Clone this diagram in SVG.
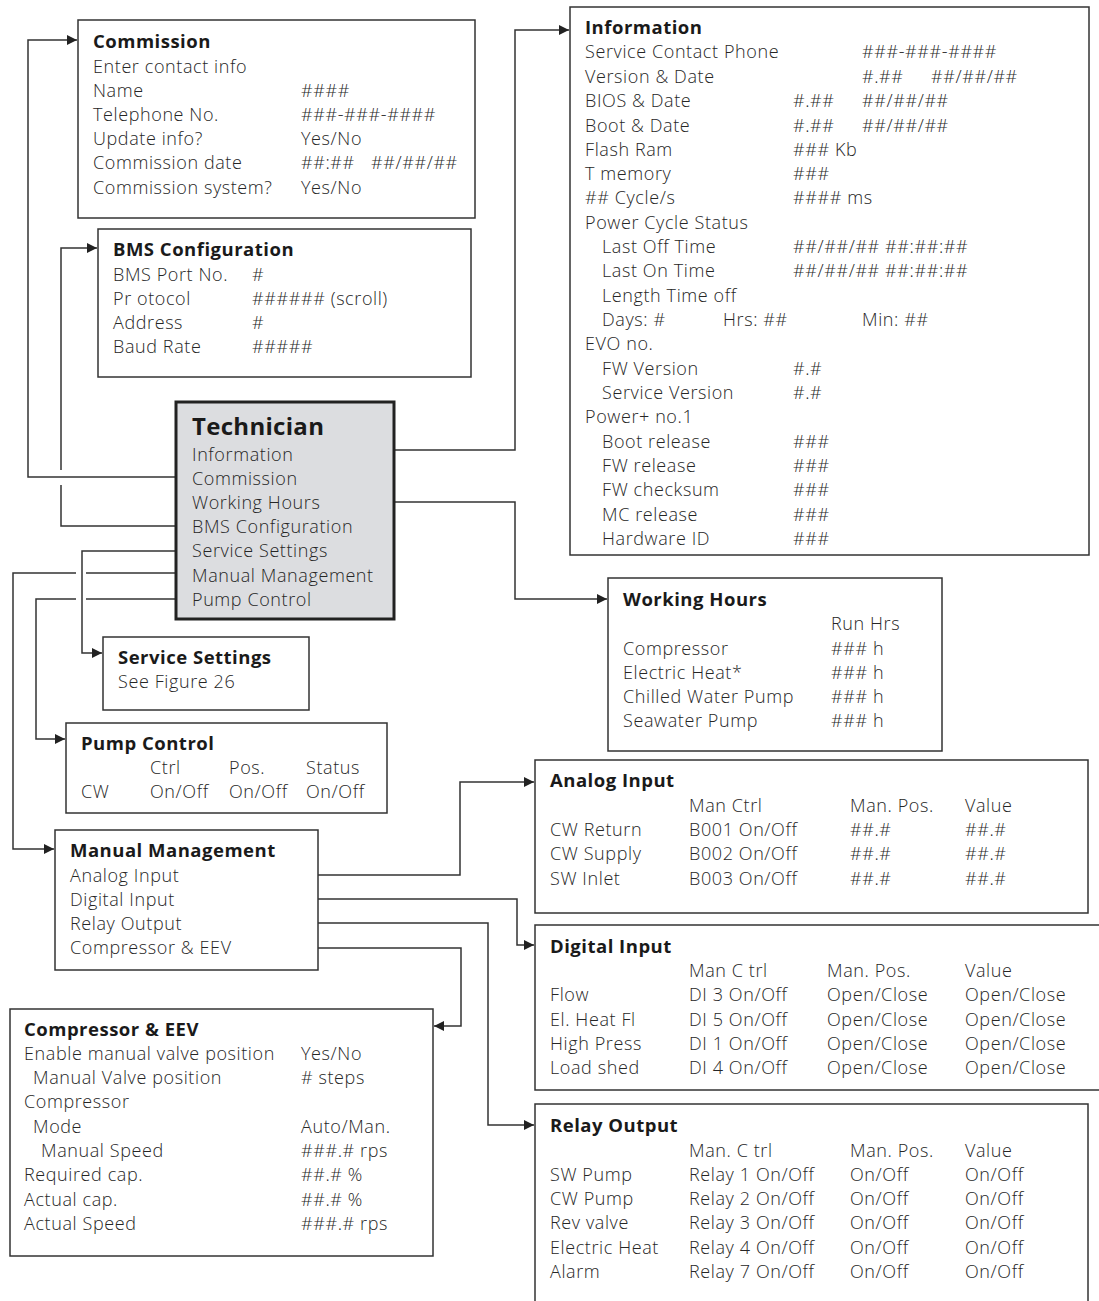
<svg xmlns="http://www.w3.org/2000/svg" width="1099" height="1301" viewBox="0 0 1099 1301">
<style>
text{font-family:"Open Sans","Liberation Sans",sans-serif;font-size:18px;font-weight:300;fill:#262626;letter-spacing:0.6px}
.t{font-weight:700;fill:#1a1a1a;font-size:18.5px;letter-spacing:0.5px}
.box{fill:#fff;stroke:#333;stroke-width:1.5}
.tech{fill:#dcdde0;stroke:#222;stroke-width:3}
.c{fill:none;stroke:#333;stroke-width:1.5}
.a{marker-end:url(#ah)}
</style>
<defs>
<marker id="ah" markerUnits="userSpaceOnUse" markerWidth="11" markerHeight="10" refX="10" refY="5" orient="auto">
<path d="M0,0 L10,5 L0,10 z" fill="#222"/>
</marker>
</defs>
<rect width="1099" height="1301" fill="#fff"/>

<g id="connectors">
<path class="c a" d="M394,450 H515 V30 H569"/>
<path class="c a" d="M176,477 H28 V40 H77"/>
<path class="c a" d="M394,502 H515 V599 H607"/>
<path class="c a" d="M61,470 V248 H97"/>
<path class="c" d="M176,526 H61 V485"/>
<path class="c a" d="M176,551 H82 V653 H102"/>
<path class="c" d="M176,573 H86"/>
<path class="c a" d="M76,573 H13 V849 H54"/>
<path class="c" d="M176,599 H86"/>
<path class="c a" d="M76,599 H36 V739 H65"/>
<path class="c a" d="M318,875 H460 V782 H534"/>
<path class="c a" d="M318,899 H517 V945 H534"/>
<path class="c a" d="M318,923 H488 V1125 H534"/>
<path class="c a" d="M318,948 H461 V1026 H434"/>
</g>

<g id="commission">
<rect class="box" x="78" y="20" width="397" height="198"/>
<text class="t" x="93" y="48">Commission</text>
<text x="93" y="73">Enter contact info</text>
<text x="93" y="97">Name</text><text x="301" y="97">####</text>
<text x="93" y="121">Telephone No.</text><text x="301" y="121">###-###-####</text>
<text x="93" y="145">Update info?</text><text x="301" y="145">Yes/No</text>
<text x="93" y="169">Commission date</text><text x="301" y="169">##:##</text><text x="371" y="169">##/##/##</text>
<text x="93" y="194">Commission system?</text><text x="301" y="194">Yes/No</text>
</g>

<g id="bms">
<rect class="box" x="98" y="229" width="373" height="148"/>
<text class="t" x="113" y="256">BMS Configuration</text>
<text x="113" y="281">BMS Port No.</text><text x="252" y="281">#</text>
<text x="113" y="305">Pr otocol</text><text x="252" y="305">###### (scroll)</text>
<text x="113" y="329">Address</text><text x="252" y="329">#</text>
<text x="113" y="353">Baud Rate</text><text x="252" y="353">#####</text>
</g>

<g id="technician">
<rect class="tech" x="176" y="402" width="218" height="217"/>
<text class="t" x="192" y="435" style="font-size:24px;letter-spacing:0.3px">Technician</text>
<text x="192" y="461">Information</text>
<text x="192" y="485">Commission</text>
<text x="192" y="509">Working Hours</text>
<text x="192" y="533">BMS Configuration</text>
<text x="192" y="557">Service Settings</text>
<text x="192" y="582">Manual Management</text>
<text x="192" y="606">Pump Control</text>
</g>

<g id="information">
<rect class="box" x="570" y="7" width="519" height="548"/>
<text class="t" x="585" y="34">Information</text>
<text x="585" y="58">Service Contact Phone</text><text x="862" y="58">###-###-####</text>
<text x="585" y="83">Version   &amp; Date</text><text x="862" y="83">#.##</text><text x="931" y="83">##/##/##</text>
<text x="585" y="107">BIOS &amp; Date</text><text x="793" y="107">#.##</text><text x="862" y="107">##/##/##</text>
<text x="585" y="132">Boot &amp; Date</text><text x="793" y="132">#.##</text><text x="862" y="132">##/##/##</text>
<text x="585" y="156">Flash Ram</text><text x="793" y="156">### Kb</text>
<text x="585" y="180">T memory</text><text x="793" y="180">###</text>
<text x="585" y="204">## Cycle/s</text><text x="793" y="204">#### ms</text>
<text x="585" y="229">Power Cycle Status</text>
<text x="602" y="253">Last Off Time</text><text x="793" y="253">##/##/## ##:##:##</text>
<text x="602" y="277">Last On Time</text><text x="793" y="277">##/##/## ##:##:##</text>
<text x="602" y="302">Length Time off</text>
<text x="602" y="326">Days: #</text><text x="723" y="326">Hrs: ##</text><text x="862" y="326">Min: ##</text>
<text x="585" y="350">EVO no.</text>
<text x="602" y="375">FW Version</text><text x="793" y="375">#.#</text>
<text x="602" y="399">Service Version</text><text x="793" y="399">#.#</text>
<text x="585" y="423">Power+  no.1</text>
<text x="602" y="448">Boot release</text><text x="793" y="448">###</text>
<text x="602" y="472">FW release</text><text x="793" y="472">###</text>
<text x="602" y="496">FW checksum</text><text x="793" y="496">###</text>
<text x="602" y="521">MC release</text><text x="793" y="521">###</text>
<text x="602" y="545">Hardware ID</text><text x="793" y="545">###</text>
</g>

<g id="working-hours">
<rect class="box" x="608" y="578" width="334" height="173"/>
<text class="t" x="623" y="606">Working Hours</text>
<text x="831" y="630">Run Hrs</text>
<text x="623" y="655">Compressor</text><text x="831" y="655">### h</text>
<text x="623" y="679">Electric Heat*</text><text x="831" y="679">### h</text>
<text x="623" y="703">Chilled Water Pump</text><text x="831" y="703">### h</text>
<text x="623" y="727">Seawater Pump</text><text x="831" y="727">### h</text>
</g>

<g id="service-settings">
<rect class="box" x="103" y="637" width="206" height="73"/>
<text class="t" x="118" y="664">Service Settings</text>
<text x="118" y="688">See Figure 26</text>
</g>

<g id="pump-control">
<rect class="box" x="66" y="723" width="321" height="90"/>
<text class="t" x="81" y="750">Pump Control</text>
<text x="150" y="774">Ctrl</text><text x="229" y="774">Pos.</text><text x="306" y="774">Status</text>
<text x="81" y="798">CW</text><text x="150" y="798">On/Off</text><text x="229" y="798">On/Off</text><text x="306" y="798">On/Off</text>
</g>

<g id="analog-input">
<rect class="box" x="535" y="760" width="553" height="153"/>
<text class="t" x="550" y="787">Analog Input</text>
<text x="689" y="812">Man Ctrl</text><text x="850" y="812">Man. Pos.</text><text x="965" y="812">Value</text>
<text x="550" y="836">CW  Return</text><text x="689" y="836">B001 On/Off</text><text x="850" y="836">##.#</text><text x="965" y="836">##.#</text>
<text x="550" y="860">CW Supply</text><text x="689" y="860">B002 On/Off</text><text x="850" y="860">##.#</text><text x="965" y="860">##.#</text>
<text x="550" y="885">SW Inlet</text><text x="689" y="885">B003 On/Off</text><text x="850" y="885">##.#</text><text x="965" y="885">##.#</text>
</g>

<g id="manual-management">
<rect class="box" x="55" y="830" width="263" height="140"/>
<text class="t" x="70" y="857">Manual Management</text>
<text x="70" y="882">Analog Input</text>
<text x="70" y="906">Digital Input</text>
<text x="70" y="930">Relay Output</text>
<text x="70" y="954">Compressor &amp; EEV</text>
</g>

<g id="digital-input">
<rect class="box" x="535" y="925" width="600" height="165"/>
<text class="t" x="550" y="953">Digital Input</text>
<text x="689" y="977">Man C trl</text><text x="827" y="977">Man. Pos.</text><text x="965" y="977">Value</text>
<text x="550" y="1001">Flow</text><text x="689" y="1001">DI 3 On/Off</text><text x="827" y="1001">Open/Close</text><text x="965" y="1001">Open/Close</text>
<text x="550" y="1026">El. Heat Fl</text><text x="689" y="1026">DI 5 On/Off</text><text x="827" y="1026">Open/Close</text><text x="965" y="1026">Open/Close</text>
<text x="550" y="1050">High Press</text><text x="689" y="1050">DI 1 On/Off</text><text x="827" y="1050">Open/Close</text><text x="965" y="1050">Open/Close</text>
<text x="550" y="1074">Load shed</text><text x="689" y="1074">DI 4 On/Off</text><text x="827" y="1074">Open/Close</text><text x="965" y="1074">Open/Close</text>
</g>

<g id="compressor-eev">
<rect class="box" x="10" y="1009" width="423" height="247"/>
<text class="t" x="24" y="1036">Compressor &amp; EEV</text>
<text x="24" y="1060">Enable manual valve position</text><text x="301" y="1060">Yes/No</text>
<text x="33" y="1084">Manual Valve position</text><text x="301" y="1084"># steps</text>
<text x="24" y="1108">Compressor</text>
<text x="33" y="1133">Mode</text><text x="301" y="1133">Auto/Man.</text>
<text x="41" y="1157">Manual Speed</text><text x="301" y="1157">###.# rps</text>
<text x="24" y="1181">Required cap.</text><text x="301" y="1181">##.# %</text>
<text x="24" y="1206">Actual cap.</text><text x="301" y="1206">##.# %</text>
<text x="24" y="1230">Actual Speed</text><text x="301" y="1230">###.# rps</text>
</g>

<g id="relay-output">
<rect class="box" x="535" y="1104" width="553" height="220"/>
<text class="t" x="550" y="1132">Relay Output</text>
<text x="689" y="1157">Man. C trl</text><text x="850" y="1157">Man. Pos.</text><text x="965" y="1157">Value</text>
<text x="550" y="1181">SW Pump</text><text x="689" y="1181">Relay 1 On/Off</text><text x="850" y="1181">On/Off</text><text x="965" y="1181">On/Off</text>
<text x="550" y="1205">CW Pump</text><text x="689" y="1205">Relay 2 On/Off</text><text x="850" y="1205">On/Off</text><text x="965" y="1205">On/Off</text>
<text x="550" y="1229">Rev valve</text><text x="689" y="1229">Relay 3 On/Off</text><text x="850" y="1229">On/Off</text><text x="965" y="1229">On/Off</text>
<text x="550" y="1254">Electric Heat</text><text x="689" y="1254">Relay 4 On/Off</text><text x="850" y="1254">On/Off</text><text x="965" y="1254">On/Off</text>
<text x="550" y="1278">Alarm</text><text x="689" y="1278">Relay 7 On/Off</text><text x="850" y="1278">On/Off</text><text x="965" y="1278">On/Off</text>
</g>
</svg>
